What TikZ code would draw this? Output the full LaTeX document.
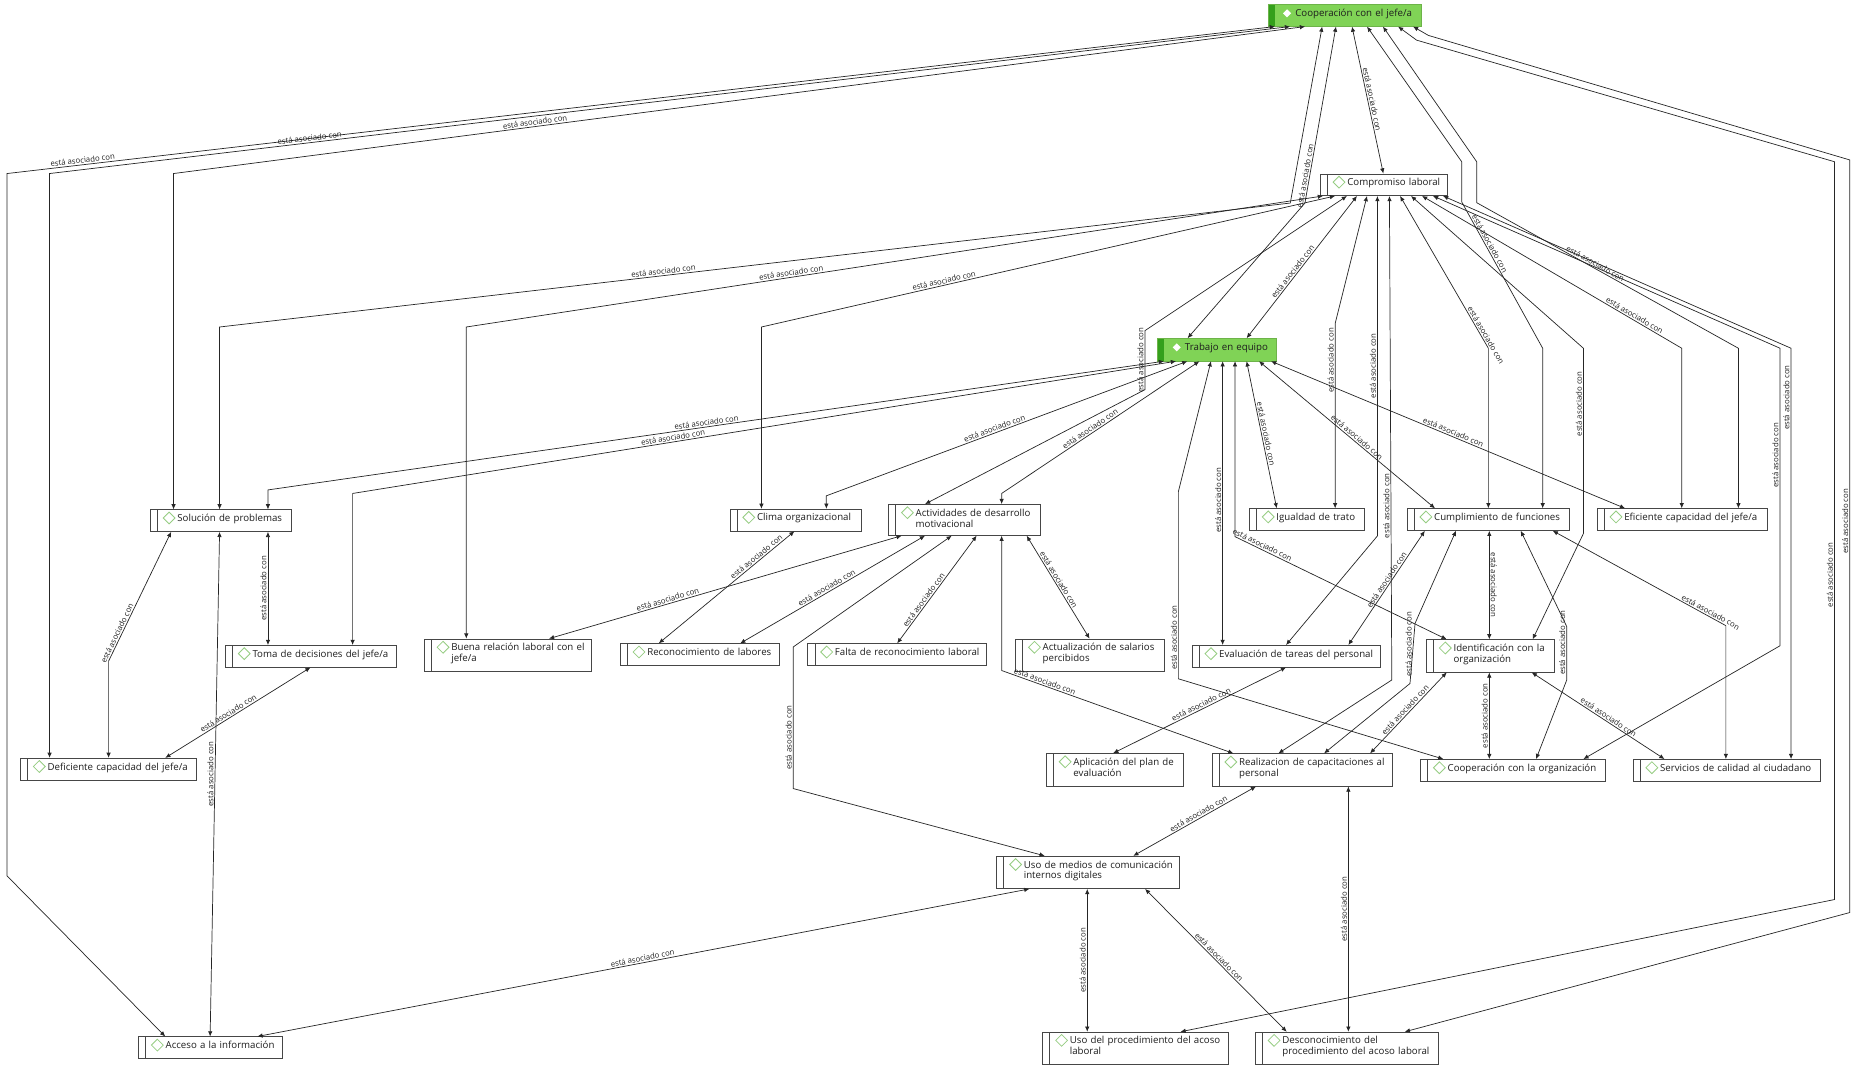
\documentclass[tikz,border=0pt]{standalone}
\usepackage{fontspec}
\setmainfont{Open Sans}
\usetikzlibrary{arrows.meta}

\definecolor{codegreen}{RGB}{128,211,86}
\definecolor{codedark}{RGB}{52,160,28}
\definecolor{dmdgreen}{RGB}{150,205,130}
\definecolor{boxline}{RGB}{70,70,70}
\definecolor{txt}{RGB}{30,30,30}

\newcommand*{\nodefont}{\fontsize{8.2}{9.6}\selectfont}
\newcommand*{\relfont}{\fontsize{6.6}{7.5}\selectfont}
\newcommand*{\cname}[1]{\hspace*{23pt}\begin{tabular}[t]{@{}l@{}}#1\end{tabular}}
\renewcommand{\arraystretch}{0.95}

\begin{document}
\begin{tikzpicture}
[
	x=1pt, y=-1pt, >={Latex[length=4.4pt,width=3.8pt]},
	code/.style={draw=boxline, line width=0.6pt, fill=white, anchor=north west, inner xsep=0pt, inner ysep=2.5pt,
		text height=7.5pt, text depth=5.9pt, font=\nodefont, text=txt, align=left,
		path picture={
			\draw[boxline, line width=0.6pt] ([xshift=6pt]path picture bounding box.north west) -- ([xshift=6pt]path picture bounding box.south west);
			\draw[dmdgreen, line width=0.7pt] ([shift={(16pt,-7pt)}]path picture bounding box.north west) +(-5pt,0pt) -- +(0pt,5pt) -- +(5pt,0pt) -- +(0pt,-5pt) -- cycle;
		}},
	greencode/.style={code, draw=codegreen!85!black, fill=codegreen,
		path picture={
			\fill[codedark] (path picture bounding box.north west) rectangle ([xshift=5.6pt]path picture bounding box.south west);
			\fill[white] ([shift={(16pt,-7.5pt)}]path picture bounding box.north west) +(-3.4pt,0pt) -- +(0pt,3.4pt) -- +(3.4pt,0pt) -- +(0pt,-3.4pt) -- cycle;
		}},
	two/.style={text depth=14.9pt},
	rel/.style={<->, draw=black!85, line width=0.6pt},
	lbl/.style={font=\relfont, text=txt, inner sep=1pt}
]

	\useasboundingbox (0,0) rectangle (1568,903);

	% codes
	\node[greencode, text width=129.5pt] at (1074,3.5) (coop) {\cname{Cooperación con el jefe/a}};
	\node[code, text width=108pt] at (1118,147) (comp) {\cname{Compromiso laboral}};
	\node[greencode, text width=100.5pt, text height=8pt] at (980.5,286.5) (trab) {\cname{Trabajo en equipo}};

	\node[code, text width=119.5pt] at (127,431.5) (sol) {\cname{Solución de problemas}};
	\node[code, text width=111pt] at (618,431) (clima) {\cname{Clima organizacional}};
	\node[code, two, text width=128.6pt, text depth=13.7pt] at (752.4,427) (activ) {\cname{Actividades de desarrollo\\motivacional}};
	\node[code, text width=97.7pt] at (1058,430.6) (igual) {\cname{Igualdad de trato}};
	\node[code, text width=137.5pt] at (1191.6,430.6) (cumpl) {\cname{Cumplimiento de funciones}};
	\node[code, text width=144pt] at (1352.6,430.6) (efic) {\cname{Eficiente capacidad del jefe/a}};

	\node[code, text width=144.6pt] at (190.6,546.4) (toma) {\cname{Toma de decisiones del jefe/a}};
	\node[code, two, text width=142pt] at (359,541) (buena) {\cname{Buena relación laboral con el\\jefe/a}};
	\node[code, text width=135pt] at (525,545) (recon) {\cname{Reconocimiento de labores}};
	\node[code, text width=151pt] at (684,545) (falta) {\cname{Falta de reconocimiento laboral}};
	\node[code, two, text width=126pt] at (860,541) (actual) {\cname{Actualización de salarios\\percibidos}};
	\node[code, text width=159.5pt] at (1009.5,546.4) (eval) {\cname{Evaluación de tareas del personal}};
	\node[code, two, text width=108.4pt] at (1208,541.6) (ident) {\cname{Identificación con la\\organización}};

	\node[code, text width=149pt] at (17,642) (defic) {\cname{Deficiente capacidad del jefe/a}};
	\node[code, two, text width=116pt] at (886,638) (aplic) {\cname{Aplicación del plan de\\evaluación}};
	\node[code, two, text width=153pt] at (1026.4,638.2) (realiz) {\cname{Realizacion de capacitaciones al\\personal}};
	\node[code, text width=157pt] at (1203,643) (cooporg) {\cname{Cooperación con la organización}};
	\node[code, text width=159pt] at (1383,643) (serv) {\cname{Servicios de calidad al ciudadano}};

	\node[code, two, text width=155pt] at (844,725) (medios) {\cname{Uso de medios de comunicación\\internos digitales}};

	\node[code, text width=122pt] at (117,878) (acceso) {\cname{Acceso a la información}};
	\node[code, two, text width=157pt] at (883,874) (usoproc) {\cname{Uso del procedimiento del acoso\\laboral}};
	\node[code, two, text width=155pt] at (1063,874) (descon) {\cname{Desconocimiento del\\procedimiento del acoso laboral}};

	% links of Cooperación con el jefe/a
	\draw[rel] (coop.south -| 1080,0) -- node[lbl, sloped, above, pos=0.94] {está asociado con} (6,147) -- (6,742) -- (acceso.north -| 140,0);
	\draw[rel] (coop.south -| 1092.8,0) -- node[lbl, sloped, above, pos=0.79] {está asociado con} (42,147) -- (defic.north -| 42,0);
	\draw[rel] (coop.south -| 1105.5,0) -- node[lbl, sloped, above, pos=0.68] {está asociado con} (147,147) -- (sol.north -| 147,0);
	\draw[rel] (coop.south -| 1120,0) -- (1093,172) -- node[lbl, sloped, above, pos=0.585] {está asociado con} (186,277) -- (sol.north -| 186,0);
	\draw[rel] (coop.south -| 1131.7,0) -- node[lbl, sloped, above, pos=0.85] {está asociado con} (1105.4,172) -- (trab.north -| 1006,0);
	\draw[rel] (coop.south -| 1145.3,0) -- node[lbl, sloped, above] {está asociado con} (comp.north -| 1171.8,0);
	\draw[rel] (coop.south -| 1158,0) -- (1238.2,137) -- (1238.2,171) -- node[lbl, sloped, above, pos=0.3] {está asociado con} (1306.8,295) -- (cumpl.north -| 1306.8,0);
	\draw[rel] (coop.south -| 1171.5,0) -- (1250.9,137) -- (1250.9,171.7) -- node[lbl, sloped, above, pos=0.445] {está asociado con} (1472.6,295) -- (efic.north -| 1472.6,0);
	\draw[rel] (coop.south -| 1184.3,0) -- (1200,34) -- (1554,137) -- node[lbl, rotate=90, anchor=south, pos=0.56] {está asociado con} (1554,762) -- (usoproc.north -| 1000,0);
	\draw[rel] (coop.south -| 1197,0) -- (1210,30) -- (1567,135.5) -- node[lbl, rotate=90, anchor=south, pos=0.48] {está asociado con} (1567,773) -- (descon.north -| 1190,0);

	% links of Compromiso laboral
	\draw[rel] (comp.south -| 1120.7,0) -- node[lbl, sloped, above, pos=0.62] {está asociado con} (395,277) -- (buena.north -| 395,0);
	\draw[rel] (comp.south -| 1130.9,0) -- node[lbl, sloped, above, pos=0.68] {está asociado con} (645,277) -- (clima.north -| 645,0);
	\draw[rel] (comp.south -| 1141,0) -- (970,280) -- node[lbl, rotate=90, anchor=south] {está asociado con} (970,330) -- (activ.north -| 783.6,0);
	\draw[rel] (comp.south -| 1149.5,0) -- node[lbl, sloped, above, pos=0.55] {está asociado con} (trab.north -| 1056,0);
	\draw[rel] (comp.south -| 1158,0) -- (1131,274) -- node[lbl, rotate=90, anchor=south, pos=0.2] {está asociado con} (igual.north -| 1131,0);
	\draw[rel] (comp.south -| 1166.8,0) -- node[lbl, rotate=90, anchor=south, pos=0.5] {está asociado con} (1166.8,454) -- (eval.north -| 1089.4,0);
	\draw[rel] (comp.south -| 1177,0) -- node[lbl, rotate=90, anchor=south, pos=0.64] {está asociado con} (1179,576) -- (realiz.north -| 1082.9,0);
	\draw[rel] (comp.south -| 1186,0) -- node[lbl, sloped, above, pos=0.93] {está asociado con} (1260.8,295) -- (cumpl.north -| 1260.8,0);
	\draw[rel] (comp.south -| 1195.3,0) -- (1341.3,295) -- node[lbl, rotate=90, anchor=south, pos=0.3] {está asociado con} (1341.3,452) -- (ident.north -| 1298.3,0);
	\draw[rel] (comp.south -| 1204.6,0) -- node[lbl, sloped, above, pos=0.81] {está asociado con} (1424.6,295) -- (efic.north -| 1424.6,0);
	\draw[rel] (comp.south -| 1213.9,0) -- (1507.9,295) -- node[lbl, rotate=90, anchor=south, pos=0.36] {está asociado con} (1507.9,547) -- (cooporg.north -| 1341.3,0);
	\draw[rel] (comp.south -| 1222.4,0) -- (1517.2,295) -- node[lbl, rotate=90, anchor=south, pos=0.12] {está asociado con} (serv.north -| 1517.2,0);

	% links of Trabajo en equipo
	\draw[rel] (trab.south -| 986,0) -- node[lbl, sloped, above, pos=0.51] {está asociado con} (227,415) -- (sol.north -| 227,0);
	\draw[rel] (trab.south -| 996.2,0) -- node[lbl, sloped, above, pos=0.61] {está asociado con} (298.7,418) -- (toma.north -| 298.7,0);
	\draw[rel] (trab.south -| 1005.8,0) -- node[lbl, sloped, above, pos=0.53] {está asociado con} (700,420) -- (clima.north -| 700,0);
	\draw[rel] (trab.south -| 1016,0) -- node[lbl, sloped, above, pos=0.54] {está asociado con} (848.5,418) -- (activ.north -| 848.5,0);
	\draw[rel] (trab.south -| 1025.8,0) -- (998.2,416.5) -- node[lbl, rotate=90, anchor=south, pos=0.78] {está asociado con} (998.2,575) -- (cooporg.north -| 1222.7,0);
	\draw[rel] (trab.south -| 1035.7,0) -- node[lbl, rotate=90, anchor=south, pos=0.49] {está asociado con} (eval.north -| 1035.7,0);
	\draw[rel] (trab.south -| 1046.2,0) -- (1046.2,454.6) -- node[lbl, sloped, above, pos=0.12] {está asociado con} (ident.north -| 1225.5,0);
	\draw[rel] (trab.south -| 1056,0) -- node[lbl, sloped, above, pos=0.5] {está asociado con} (igual.north -| 1081.5,0);
	\draw[rel] (trab.south -| 1066.5,0) -- node[lbl, sloped, above, pos=0.54] {está asociado con} (cumpl.north -| 1215.6,0);
	\draw[rel] (trab.south -| 1076.7,0) -- node[lbl, sloped, above, pos=0.51] {está asociado con} (efic.north -| 1376.6,0);

	% links of Solución de problemas and Toma de decisiones
	\draw[rel] (sol.south -| 145,0) -- node[lbl, sloped, above, pos=0.8] {está asociado con} (92,560) -- (defic.north -| 92,0);
	\draw[rel] (sol.south -| 186,0) -- node[lbl, rotate=90, anchor=south, pos=0.48] {está asociado con} (acceso.north -| 178,0);
	\draw[rel] (sol.south -| 227,0) -- node[lbl, rotate=90, anchor=south] {está asociado con} (toma.north -| 227,0);
	\draw[rel] (toma.south -| 263,0) -- node[lbl, sloped, above, pos=0.55] {está asociado con} (defic.north -| 140,0);

	% links of Clima organizacional and Actividades
	\draw[rel] (clima.south -| 673,0) -- node[lbl, sloped, above, pos=0.26] {está asociado con} (recon.north -| 558,0);
	\draw[rel] (activ.south -| 763.8,0) -- node[lbl, sloped, above, pos=0.66] {está asociado con} (buena.north -| 465,0);
	\draw[rel] (activ.south -| 783.6,0) -- node[lbl, sloped, above, pos=0.52] {está asociado con} (recon.north -| 627,0);
	\draw[rel] (activ.south -| 806.2,0) -- (672,548) -- node[lbl, rotate=90, anchor=south, pos=0.64] {está asociado con} (672,668) -- (medios.north -| 885,0);
	\draw[rel] (activ.south -| 827.3,0) -- node[lbl, sloped, above, pos=0.62] {está asociado con} (falta.north -| 760,0);
	\draw[rel] (activ.south -| 848.5,0) -- (848.5,568) -- node[lbl, sloped, above, pos=0.18] {está asociado con} (realiz.north -| 1044.8,0);
	\draw[rel] (activ.south -| 869.7,0) -- node[lbl, sloped, above, pos=0.45] {está asociado con} (actual.north -| 923,0);

	% links of Evaluación, Cumplimiento and Identificación
	\draw[rel] (eval.south -| 1089.4,0) -- node[lbl, sloped, above, pos=0.48] {está asociado con} (aplic.north -| 943,0);
	\draw[rel] (cumpl.south -| 1207,0) -- node[lbl, sloped, above, pos=0.45] {está asociado con} (eval.north -| 1142.2,0);
	\draw[rel] (cumpl.south -| 1233.4,0) -- (1198.7,528) -- node[lbl, rotate=90, anchor=south, pos=0.35] {está asociado con} (1194.4,579) -- (realiz.north -| 1121.6,0);
	\draw[rel] (cumpl.south -| 1261.6,0) -- node[lbl, rotate=-90, anchor=south, pos=0.5] {está asociado con} (ident.north -| 1261.6,0);
	\draw[rel] (cumpl.south -| 1288.2,0) -- (1327.2,530.8) -- node[lbl, rotate=90, anchor=south, pos=0.3] {está asociado con} (1327.2,576) -- (cooporg.north -| 1301.2,0);
	\draw[rel] (cumpl.south -| 1315.3,0) -- node[lbl, sloped, above, pos=0.9] {está asociado con} (1462,530) -- (serv.north -| 1462,0);
	\draw[rel] (ident.south -| 1225.5,0) -- node[lbl, sloped, above, pos=0.5] {está asociado con} (realiz.north -| 1160.6,0);
	\draw[rel] (ident.south -| 1261.6,0) -- node[lbl, rotate=90, anchor=south, pos=0.5] {está asociado con} (cooporg.north -| 1261.6,0);
	\draw[rel] (ident.south -| 1297.5,0) -- node[lbl, sloped, above, pos=0.56] {está asociado con} (serv.north -| 1410,0);

	% links of Realizacion and Uso de medios
	\draw[rel] (realiz.south -| 1064,0) -- node[lbl, sloped, above, pos=0.45] {está asociado con} (medios.north -| 960,0);
	\draw[rel] (realiz.south -| 1142.2,0) -- node[lbl, rotate=90, anchor=south, pos=0.5] {está asociado con} (descon.north -| 1142.2,0);
	\draw[rel] (medios.south -| 872,0) -- node[lbl, sloped, above, pos=0.5] {está asociado con} (acceso.north -| 218,0);
	\draw[rel] (medios.south -| 921,0) -- node[lbl, rotate=90, anchor=south, pos=0.5] {está asociado con} (usoproc.north -| 921,0);
	\draw[rel] (medios.south -| 970,0) -- node[lbl, sloped, above, pos=0.5] {está asociado con} (descon.north -| 1090,0);

\end{tikzpicture}
\end{document}
